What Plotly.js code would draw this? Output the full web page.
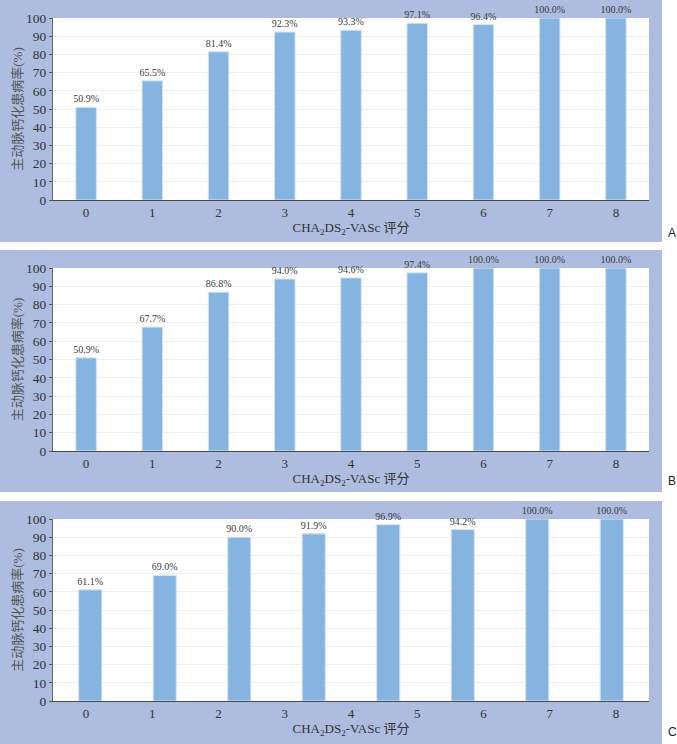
<!DOCTYPE html>
<html>
<head>
<meta charset="utf-8">
<script src="https://cdn.plot.ly/plotly-3.0.1.min.js"></script>
<style>
  html, body { margin: 0; padding: 0; background: #fff; }
  #plot { width: 677px; height: 744px; }
</style>
</head>
<body>
<div id="plot"></div>
<script>
// Scores on the x axis and prevalence (%) per panel
var scoreLabels = ['0', '1', '2', '3', '4', '5', '6', '7', '8'];
var ratesA = [50.9, 65.5, 81.4, 92.3, 93.3, 97.1, 96.4, 100.0, 100.0];
var ratesB = [50.9, 67.7, 86.8, 94.0, 94.6, 97.4, 100.0, 100.0, 100.0];
// panel C only has 8 bars, but the axis still shows 0-8 (as in the original figure)
var ratesC = [61.1, 69.0, 90.0, 91.9, 96.9, 94.2, 100.0, 100.0];
var panelLetters = ['A', 'B', 'C'];

var W = 677, H = 744;
var serif = 'Liberation Serif, Noto Sans CJK SC, serif';

// pixel boxes for each panel (background) and its plot area
var panels = [
  {top: 0,   bottom: 242, plotTop: 18,  plotBottom: 200, letterY: 233},
  {top: 250, bottom: 492, plotTop: 268, plotBottom: 451, letterY: 481},
  {top: 501, bottom: 744, plotTop: 519, plotBottom: 701, letterY: 732}
];
var panelRight = 662, plotLeft = 53, plotRight = 649;

function px(v) { return v / W; }
function py(v) { return 1 - v / H; }

var allRates = [ratesA, ratesB, ratesC];
var data = [];
var layout = {
  width: W,
  height: H,
  margin: {l: 0, r: 0, t: 0, b: 0},
  paper_bgcolor: '#ffffff',
  plot_bgcolor: '#ffffff',
  showlegend: false,
  shapes: [],
  annotations: []
};

for (var p = 0; p < 3; p++) {
  var suffix = p === 0 ? '' : String(p + 1);
  var rates = allRates[p];
  var nBars = rates.length;
  var xs = rates.map(function(v, i) { return i; });

  data.push({
    type: 'bar',
    x: xs,
    y: rates,
    xaxis: 'x' + suffix,
    yaxis: 'y' + suffix,
    width: 0.31,
    marker: {color: '#86b4e1', line: {color: '#d4e4f4', width: 1}},
    texttemplate: '%{y:.1f}%',
    textposition: 'outside',
    constraintext: 'none',
    cliponaxis: false,
    textfont: {family: serif, size: 10, color: '#3a3a3a'},
    hoverinfo: 'skip'
  });

  // tick labels 0-8 spread over the full axis even when there are fewer bars
  var tickvals = scoreLabels.map(function(s, k) {
    return -0.5 + (k + 0.5) * nBars / scoreLabels.length;
  });

  layout['xaxis' + suffix] = {
    domain: [px(plotLeft), px(plotRight)],
    anchor: 'y' + suffix,
    range: [-0.5, nBars - 0.5],
    tickvals: tickvals,
    ticktext: scoreLabels,
    ticks: '',
    showgrid: false,
    zeroline: false,
    showline: true,
    linecolor: '#4a4a4a',
    linewidth: 1.2,
    tickfont: {family: serif, size: 13, color: '#333'},
    title: {
      text: 'CHA<sub>2</sub>DS<sub>2</sub>-VASc 评分',
      font: {family: serif, size: 13, color: '#333'},
      standoff: 2
    },
    fixedrange: true
  };

  layout['yaxis' + suffix] = {
    domain: [py(panels[p].plotBottom), py(panels[p].plotTop)],
    anchor: 'x' + suffix,
    range: [0, 100],
    dtick: 10,
    ticks: 'outside',
    ticklen: 3,
    tickcolor: '#555',
    showline: true,
    linecolor: '#666',
    linewidth: 1,
    showgrid: true,
    gridcolor: '#f0f0f0',
    zeroline: false,
    tickfont: {family: serif, size: 13.5, color: '#333'},
    title: {
      text: '主动脉钙化患病率(%)',
      font: {family: serif, size: 13, color: '#555'},
      standoff: 0
    },
    fixedrange: true
  };

  // lavender panel background, then white plot area over it
  layout.shapes.push({
    type: 'rect', xref: 'paper', yref: 'paper', layer: 'below',
    x0: 0, x1: px(panelRight), y0: py(panels[p].bottom), y1: py(panels[p].top),
    fillcolor: '#adbcdf', line: {width: 0}
  });
  layout.shapes.push({
    type: 'rect', xref: 'paper', yref: 'paper', layer: 'below',
    x0: px(plotLeft), x1: px(plotRight),
    y0: py(panels[p].plotBottom), y1: py(panels[p].plotTop),
    fillcolor: '#ffffff', line: {width: 0}
  });

  layout.annotations.push({
    text: panelLetters[p],
    xref: 'paper', yref: 'paper',
    x: px(672), y: py(panels[p].letterY),
    xanchor: 'center', yanchor: 'middle',
    showarrow: false,
    font: {family: 'Liberation Sans, Arial, sans-serif', size: 12, color: '#222'}
  });
}

Plotly.newPlot('plot', data, layout, {displayModeBar: false, staticPlot: true});
</script>
</body>
</html>
